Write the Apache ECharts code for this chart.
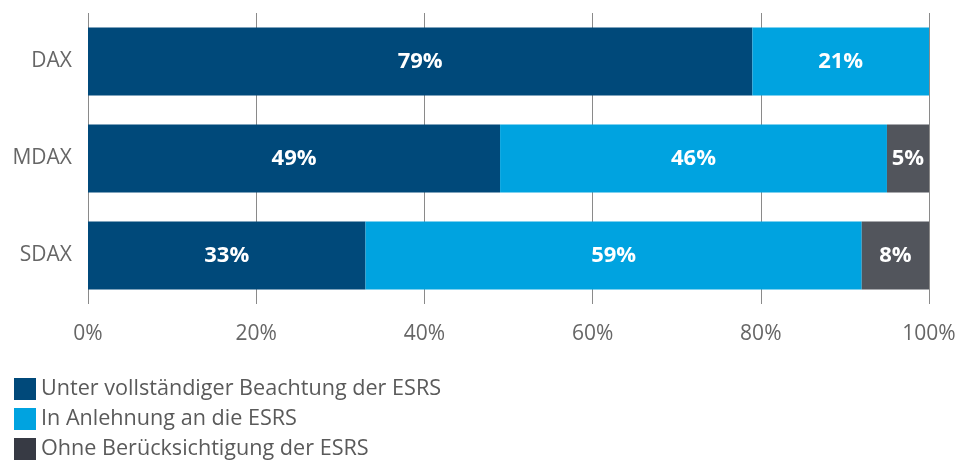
<!DOCTYPE html>
<html lang="de">
<head>
  <meta charset="UTF-8">
  <title>ESRS Anwendung DAX / MDAX / SDAX</title>
  <script src="https://cdn.jsdelivr.net/npm/echarts@6/dist/echarts.min.js"></script>
  <style>
    html, body, #main {
      margin: 0;
      padding: 0;
      width: 962px;
      height: 467px;
      background: #fff;
    }
  </style>
</head>
<body>
  <div id="main"></div>

  <script>
    const indices = ["DAX", "MDAX", "SDAX"];
    const fullEsrs = [79, 49, 33];
    const partialEsrs = [21, 46, 59];
    const noEsrs = [0, 5, 8];
    const seriesNames = [
      "Unter vollständiger Beachtung der ESRS",
      "In Anlehnung an die ESRS",
      "Ohne Berücksichtigung der ESRS"
    ];
    const colors = ["#00497a", "#00a3e0", "#52555c"];
    const legendColors = ["#00497a", "#00a3e0", "#373a44"];

    const font = "'Open Sans', sans-serif";

    const makeSeries = (name, data, color) => ({
      name: name,
      type: 'bar',
      stack: 'total',
      barWidth: 68,
      itemStyle: { color: color },
      label: {
        show: true,
        color: '#fff',
        fontFamily: font,
        fontWeight: 'bold',
        fontSize: 22,
        formatter: p => p.value > 0 ? p.value + '%' : ''
      },
      data: data
    });

    const chart = echarts.init(document.getElementById('main'));
    chart.setOption({
      animation: false,
      color: colors,
      grid: { left: 88, right: 33, top: 13, height: 291 },
      legend: {
        orient: 'vertical',
        left: 14,
        top: 378,
        padding: 0,
        itemWidth: 22,
        itemHeight: 22,
        itemGap: 8,
        icon: 'rect',
        textStyle: { fontFamily: font, fontSize: 21.6, color: '#5a5a5a' },
        data: seriesNames.map((n, i) => ({ name: n, itemStyle: { color: legendColors[i] } }))
      },
      xAxis: {
        type: 'value',
        min: 0,
        max: 100,
        interval: 20,
        axisLine: { show: false },
        axisTick: { show: false },
        splitLine: { lineStyle: { color: '#8a8a8a', width: 1 } },
        axisLabel: {
          formatter: '{value}%',
          fontFamily: font,
          fontSize: 21,
          color: '#666',
          margin: 20
        }
      },
      yAxis: {
        type: 'category',
        inverse: true,
        data: indices,
        axisLine: { show: false },
        axisTick: { show: false },
        axisLabel: { fontFamily: font, fontSize: 21, color: '#666', margin: 16 }
      },
      series: [
        makeSeries(seriesNames[0], fullEsrs, colors[0]),
        makeSeries(seriesNames[1], partialEsrs, colors[1]),
        makeSeries(seriesNames[2], noEsrs, colors[2])
      ]
    });
  </script>
</body>
</html>
